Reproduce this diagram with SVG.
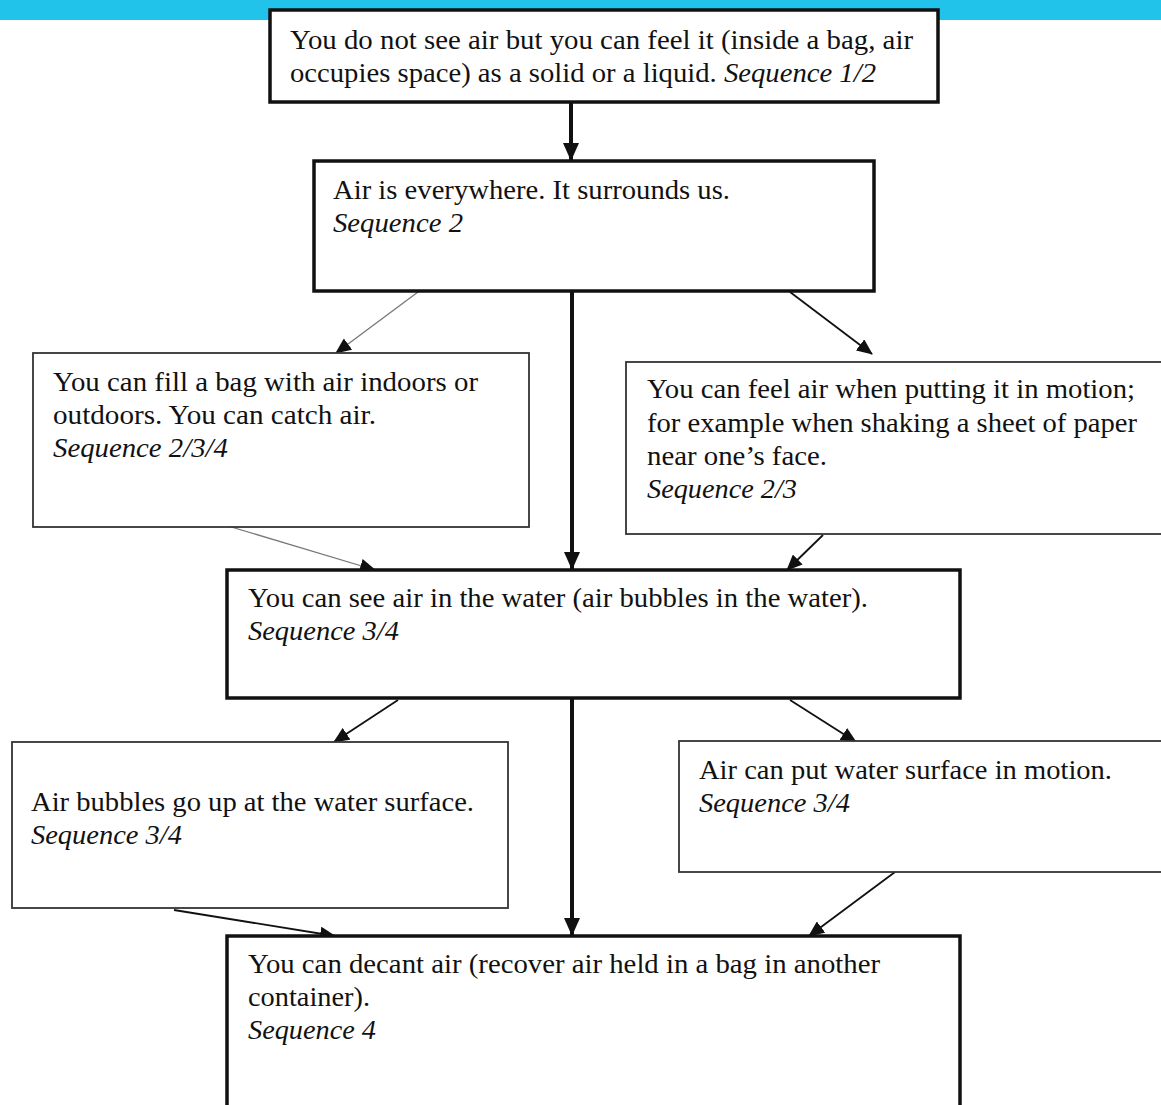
<svg xmlns="http://www.w3.org/2000/svg" width="1161" height="1105" viewBox="0 0 1161 1105">
<style>
  text { font-family: 'Liberation Serif', Tinos, 'Times New Roman', Times, serif; font-size: 28px; fill: #111; }
  .cond { font-size: 27px; }
  .it { font-style: italic; }
  .thick { fill: #fff; stroke: #111; stroke-width: 3.5; }
  .thin { fill: #fff; stroke: #333; stroke-width: 1.8; }
  .c-thick { stroke: #111; stroke-width: 4; fill: none; }
  .c-mid { stroke: #111; stroke-width: 1.8; fill: none; }
  .c-light { stroke: #777; stroke-width: 1.3; fill: none; }
</style>
<defs>
  <marker id="ah" markerUnits="userSpaceOnUse" markerWidth="16" markerHeight="14" refX="15" refY="7" orient="auto">
    <path d="M0,0 L16,7 L0,14 Z" fill="#111"/>
  </marker>
  <marker id="ahb" markerUnits="userSpaceOnUse" markerWidth="18" markerHeight="16" refX="17" refY="8" orient="auto">
    <path d="M0,0 L18,8 L0,16 Z" fill="#111"/>
  </marker>
</defs>
<rect x="0" y="0" width="1161" height="20" fill="#22c3eb"/>

<g id="connectors">
  <line class="c-thick" x1="571" y1="102" x2="571" y2="160" marker-end="url(#ahb)"/>
  <line class="c-light" x1="418" y1="292" x2="336" y2="353" marker-end="url(#ah)"/>
  <line class="c-thick" x1="572" y1="291" x2="572" y2="569" marker-end="url(#ahb)"/>
  <line class="c-mid" x1="790" y1="292" x2="872" y2="354" marker-end="url(#ah)"/>
  <line class="c-light" x1="218" y1="523" x2="375" y2="570" marker-end="url(#ah)"/>
  <line class="c-mid" x1="823" y1="535" x2="787" y2="570" marker-end="url(#ah)"/>
  <line class="c-mid" x1="398" y1="700" x2="334" y2="742" marker-end="url(#ah)"/>
  <line class="c-thick" x1="572" y1="698" x2="572" y2="935" marker-end="url(#ahb)"/>
  <line class="c-mid" x1="790" y1="700" x2="856" y2="742" marker-end="url(#ah)"/>
  <line class="c-mid" x1="174" y1="910" x2="335" y2="936" marker-end="url(#ah)"/>
  <line class="c-mid" x1="895" y1="872" x2="809" y2="936" marker-end="url(#ah)"/>
</g>

<g id="node1">
  <rect class="thick" x="270" y="10" width="668" height="92"/>
  <text class="cond" x="290" y="49" textLength="623" lengthAdjust="spacingAndGlyphs">You do not see air but you can feel it (inside a bag, air</text>
  <text class="cond" x="290" y="82" textLength="586" lengthAdjust="spacingAndGlyphs">occupies space) as a solid or a liquid. <tspan class="it">Sequence 1/2</tspan></text>
</g>

<g id="node2">
  <rect class="thick" x="314" y="161" width="560" height="130"/>
  <text class="cond" x="333" y="199" textLength="397" lengthAdjust="spacingAndGlyphs">Air is everywhere. It surrounds us.</text>
  <text class="cond it" x="333" y="232" textLength="130" lengthAdjust="spacingAndGlyphs">Sequence 2</text>
</g>

<g id="node3">
  <rect class="thin" x="33" y="353" width="496" height="174"/>
  <text x="53" y="391" textLength="425" lengthAdjust="spacingAndGlyphs">You can fill a bag with air indoors or</text>
  <text x="53" y="424" textLength="323" lengthAdjust="spacingAndGlyphs">outdoors. You can catch air.</text>
  <text class="it" x="53" y="457" textLength="175" lengthAdjust="spacingAndGlyphs">Sequence 2/3/4</text>
</g>

<g id="node4">
  <rect class="thin" x="626" y="362" width="540" height="172"/>
  <text x="647" y="398" textLength="488" lengthAdjust="spacingAndGlyphs">You can feel air when putting it in motion;</text>
  <text x="647" y="432" textLength="490" lengthAdjust="spacingAndGlyphs">for example when shaking a sheet of paper</text>
  <text x="647" y="465" textLength="180" lengthAdjust="spacingAndGlyphs">near one’s face.</text>
  <text class="it" x="647" y="498" textLength="150" lengthAdjust="spacingAndGlyphs">Sequence 2/3</text>
</g>

<g id="node5">
  <rect class="thick" x="227" y="570" width="733" height="128"/>
  <text class="cond" x="248" y="607" textLength="620" lengthAdjust="spacingAndGlyphs">You can see air in the water (air bubbles in the water).</text>
  <text class="cond it" x="248" y="640" textLength="151" lengthAdjust="spacingAndGlyphs">Sequence 3/4</text>
</g>

<g id="node6">
  <rect class="thin" x="12" y="742" width="496" height="166"/>
  <text x="31" y="811" textLength="443" lengthAdjust="spacingAndGlyphs">Air bubbles go up at the water surface.</text>
  <text class="it" x="31" y="844" textLength="151" lengthAdjust="spacingAndGlyphs">Sequence 3/4</text>
</g>

<g id="node7">
  <rect class="thin" x="679" y="741" width="487" height="131"/>
  <text x="699" y="779" textLength="413" lengthAdjust="spacingAndGlyphs">Air can put water surface in motion.</text>
  <text class="it" x="699" y="812" textLength="151" lengthAdjust="spacingAndGlyphs">Sequence 3/4</text>
</g>

<g id="node8">
  <rect class="thick" x="227" y="936" width="733" height="180"/>
  <text class="cond" x="248" y="973" textLength="632" lengthAdjust="spacingAndGlyphs">You can decant air (recover air held in a bag in another</text>
  <text class="cond" x="248" y="1006" textLength="122" lengthAdjust="spacingAndGlyphs">container).</text>
  <text class="cond it" x="248" y="1039" textLength="128" lengthAdjust="spacingAndGlyphs">Sequence 4</text>
</g>
</svg>
